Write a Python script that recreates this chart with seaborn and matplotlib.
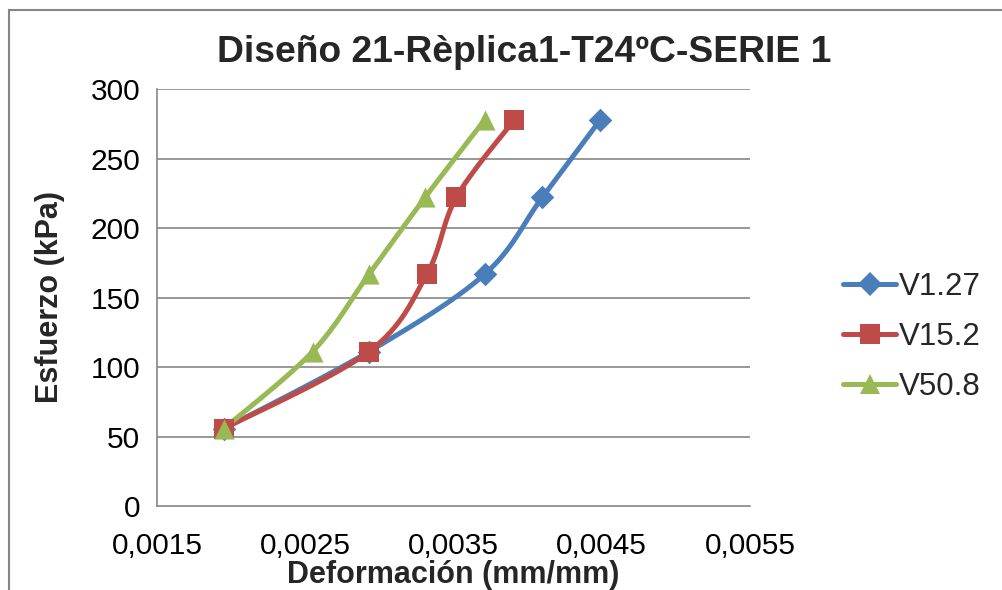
import numpy as np
import matplotlib
matplotlib.use("Agg")
import matplotlib.pyplot as plt
import seaborn as sns
import pandas as pd
from matplotlib.lines import Line2D
from matplotlib.patches import Rectangle

# ---- data ----
stress = [55.6, 111.1, 166.7, 222.2, 277.8]
strain_v127 = [0.00195, 0.00293, 0.00371, 0.00410, 0.00449]
strain_v152 = [0.00195, 0.00293, 0.00332, 0.00352, 0.00391]
strain_v508 = [0.00195, 0.00255, 0.00293, 0.00331, 0.00371]
series_names = ["V1.27", "V15.2", "V50.8"]
x_ticks = [0.0015, 0.0025, 0.0035, 0.0045, 0.0055]
x_tick_labels = ["0,0015", "0,0025", "0,0035", "0,0045", "0,0055"]
y_ticks = [0, 50, 100, 150, 200, 250, 300]

colors = ["#4A7EBB", "#BE4B48", "#98B954"]
markers = ["D", "s", "^"]
msizes = [12, 14, 14.5]

sns.set_theme(style="white")
plt.rcParams["font.family"] = ["Liberation Sans", "DejaVu Sans"]

W, H = 1003, 590
fig = plt.figure(figsize=(W / 100, H / 100), dpi=100)
L, R, T, B = 157, 750, 89, 506
ax = fig.add_axes([L / W, 1 - B / H, (R - L) / W, (B - T) / H])

XMIN, XMAX, YMIN, YMAX = 0.0015, 0.0055, 0, 300
ax.set_xlim(XMIN, XMAX)
ax.set_ylim(YMIN, YMAX)


def smooth(xs, ys, n=30):
    # Excel-like smoothed line (Catmull-Rom -> Bezier) in pixel space
    sx = (R - L) / (XMAX - XMIN)
    sy = (B - T) / (YMAX - YMIN)
    P = np.column_stack([(np.array(xs) - XMIN) * sx, (np.array(ys) - YMIN) * sy])
    Pe = np.vstack([P[0], P, P[-1]])
    out = []
    t = np.linspace(0, 1, n)[:, None]
    for i in range(1, len(Pe) - 2):
        p0, p1, p2, p3 = Pe[i - 1], Pe[i], Pe[i + 1], Pe[i + 2]
        c1 = p1 + (p2 - p0) / 6
        c2 = p2 - (p3 - p1) / 6
        seg = ((1 - t) ** 3) * p1 + 3 * ((1 - t) ** 2) * t * c1 + 3 * (1 - t) * t ** 2 * c2 + t ** 3 * p2
        out.append(seg if i == 1 else seg[1:])
    C = np.vstack(out)
    return C[:, 0] / sx + XMIN, C[:, 1] / sy + YMIN


# gridlines
for yv in y_ticks[1:]:
    ax.axhline(yv, color="#868686", lw=1.2, zorder=0)

all_x = [strain_v127, strain_v152, strain_v508]
handles = []
LW = 3.6
for xs, name, c, m, ms in zip(all_x, series_names, colors, markers, msizes):
    cx, cy = smooth(xs, stress)
    df_line = pd.DataFrame({"x": cx, "y": cy})
    sns.lineplot(data=df_line, x="x", y="y", sort=False, estimator=None,
                 color=c, lw=LW, ax=ax, zorder=3, solid_capstyle="round")
    df_pts = pd.DataFrame({"x": xs, "y": stress})
    sns.scatterplot(data=df_pts, x="x", y="y", marker=m, s=ms ** 2, color=c,
                    edgecolor=c, linewidth=0, ax=ax, zorder=4)
    handles.append(Line2D([], [], color=c, lw=LW, marker=m, markersize=ms,
                          markeredgewidth=0, solid_capstyle="round"))

ax.set_xticks(x_ticks)
ax.set_xticklabels(x_tick_labels)
ax.set_yticks(y_ticks)
ax.tick_params(axis="both", length=0, labelsize=21.5, colors="black")
ax.tick_params(axis="x", pad=19)
ax.tick_params(axis="y", pad=12)

for s in ["top", "right"]:
    ax.spines[s].set_visible(False)
for s in ["left", "bottom"]:
    ax.spines[s].set_color("#868686")
    ax.spines[s].set_linewidth(1.2)

ax.set_xlabel("")
ax.set_ylabel("")
fig.text((L + R) / 2 / W, 1 - 575 / H, "Deformación (mm/mm)", ha="center", va="center",
         fontsize=22, fontweight="bold")
fig.text(50 / W, 1 - 297 / H, "Esfuerzo (kPa)", ha="center", va="center",
         rotation=90, fontsize=22, fontweight="bold")
fig.text(524 / W, 1 - 53 / H, "Diseño 21-Rèplica1-T24ºC-SERIE 1", ha="center", va="center",
         fontsize=26.8, fontweight="bold")

leg = fig.legend(handles, series_names, loc="center left",
                 bbox_to_anchor=(843 / W, 1 - 337 / H), frameon=False,
                 fontsize=22.5, handlelength=1.7, handletextpad=0.1, labelspacing=0.65,
                 borderpad=0, borderaxespad=0)

# outer chart border
fig.add_artist(Rectangle((9 / W, -0.2), 1.2, 1 - 10 / H + 0.2, transform=fig.transFigure,
                         fill=False, edgecolor="#868686", lw=1.5, clip_on=False))

fig.savefig("out.png", dpi=100)
